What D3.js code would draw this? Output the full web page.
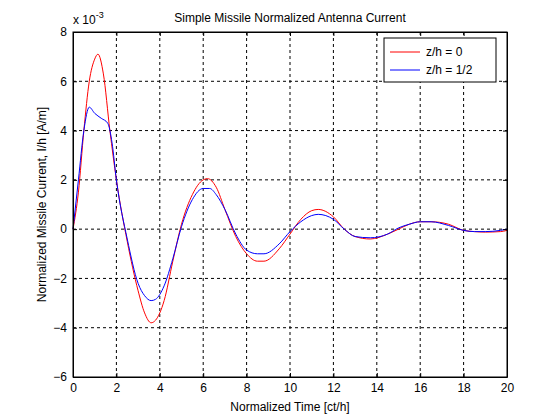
<!DOCTYPE html>
<html><head><meta charset="utf-8">
<script src="https://cdn.jsdelivr.net/npm/d3@7"></script>
<style>body{margin:0;background:#fff}text{font-family:"Liberation Sans",Arial,sans-serif}</style>
</head><body><div class="canvas"></div>
<script>
// values in units of 1e-3
const tRed = [0,0.25,0.5,0.75,1.0,1.15,1.4,1.7,2.0,2.5,3.0,3.3,3.6,3.8,4.2,4.6,5.0,5.5,6.0,6.2,6.6,7.0,7.5,8.0,8.5,8.8,9.5,10,10.5,11,11.3,12,12.5,13,13.7,14.5,15,15.5,16,16.5,17.3,18,18.5,19,19.7,20];
const red = [0,1.5,4,6,6.9,7.1,6.3,4.0,2.0,-0.5,-2.5,-3.4,-3.8,-3.7,-2.9,-1.3,0.2,1.4,2.0,2.05,1.7,0.8,-0.3,-1.0,-1.3,-1.3,-0.8,-0.2,0.4,0.75,0.8,0.5,0.0,-0.3,-0.4,-0.2,0.0,0.2,0.3,0.3,0.2,-0.05,-0.1,-0.12,-0.1,-0.05];
const tBlue = [0,0.25,0.5,0.75,1.0,1.3,1.6,1.8,2.0,2.5,3.0,3.3,3.6,3.8,4.2,4.6,5.0,5.5,6.0,6.3,6.6,7.0,7.5,8.0,8.5,8.8,9.5,10,10.5,11,11.3,12,12.5,13,13.7,14.5,15,15.5,16,16.5,17.3,18,18.5,19,19.7,20];
const blue = [0,2.0,4.0,4.95,4.7,4.5,4.3,3.5,2.0,-0.4,-2.2,-2.7,-2.9,-2.85,-2.3,-1.2,0.1,1.2,1.65,1.65,1.4,0.8,-0.2,-0.85,-1.0,-1.0,-0.6,-0.1,0.3,0.55,0.6,0.4,0.0,-0.3,-0.35,-0.2,0.05,0.2,0.3,0.3,0.15,-0.05,-0.1,-0.1,-0.05,0];
const xTicks = d3.range(0, 21, 2);
const yTicks = d3.range(-6, 9, 2);
const seriesNames = ['z/h = 0', 'z/h = 1/2'];

const svg = d3.select('.canvas').append('svg').attr('width', 560).attr('height', 420);
const margin = { top: 32, right: 53, bottom: 43, left: 73 };
const w = 560 - margin.left - margin.right, h = 420 - margin.top - margin.bottom;
const g = svg.append('g').attr('transform', `translate(${margin.left},${margin.top})`);

const x = d3.scaleLinear().domain([0, 20]).range([0, w]);
const y = d3.scaleLinear().domain([-6, 8]).range([h, 0]);

// grid
g.selectAll('.gx').data(xTicks.slice(1, -1)).enter().append('line')
  .attr('x1', d => x(d)).attr('x2', d => x(d)).attr('y1', 0).attr('y2', h)
  .attr('stroke', '#000').attr('stroke-dasharray', '3,3');
g.selectAll('.gy').data(yTicks.slice(1, -1)).enter().append('line')
  .attr('y1', d => y(d)).attr('y2', d => y(d)).attr('x1', 0).attr('x2', w)
  .attr('stroke', '#000').attr('stroke-dasharray', '3,3');

const line = d3.line().x(d => x(d[0])).y(d => y(d[1])).curve(d3.curveMonotoneX);
g.append('path').datum(d3.zip(tRed, red)).attr('d', line).attr('fill', 'none').attr('stroke', '#f00');
g.append('path').datum(d3.zip(tBlue, blue)).attr('d', line).attr('fill', 'none').attr('stroke', '#00f');

// axes
const xa = g.append('g').attr('transform', `translate(0,${h})`).call(d3.axisBottom(x).tickValues(xTicks).tickSizeInner(-4).tickSizeOuter(0).tickPadding(6));
const xt = g.append('g').call(d3.axisTop(x).tickValues(xTicks).tickSizeInner(-4).tickSizeOuter(0).tickFormat(''));
const ya = g.append('g').call(d3.axisLeft(y).tickValues(yTicks).tickSizeInner(-4).tickSizeOuter(0).tickPadding(6));
const yr = g.append('g').attr('transform', `translate(${w},0)`).call(d3.axisRight(y).tickValues(yTicks).tickSizeInner(-4).tickSizeOuter(0).tickFormat(''));
[xa, xt, ya, yr].forEach(a => { a.selectAll('text').attr('font-size', 12).attr('fill', '#000'); a.select('.domain').attr('stroke', '#000'); });
g.append('rect').attr('width', w).attr('height', h).attr('fill', 'none').attr('stroke', '#000');

// labels
svg.append('text').attr('x', margin.left + w / 2).attr('y', 22).attr('text-anchor', 'middle').attr('font-size', 12).text('Simple Missile Normalized Antenna Current');
svg.append('text').attr('x', margin.left + w / 2).attr('y', 411).attr('text-anchor', 'middle').attr('font-size', 12).text('Normalized Time [ct/h]');
svg.append('text').attr('transform', `translate(46,${margin.top + h / 2}) rotate(-90)`).attr('text-anchor', 'middle').attr('font-size', 12).text('Normalized Missile Current, I/h [A/m]');
const ex = svg.append('text').attr('x', 73).attr('y', 24).attr('font-size', 12).text('x 10');
ex.append('tspan').attr('dy', -6).attr('font-size', 9).text('-3');

// legend
const lg = svg.append('g').attr('transform', 'translate(384,38)');
lg.append('rect').attr('width', 112).attr('height', 44).attr('fill', '#fff').attr('stroke', '#000');
['#f00', '#00f'].forEach((c, i) => {
  lg.append('line').attr('x1', 6).attr('x2', 36).attr('y1', 14 + i * 18).attr('y2', 14 + i * 18).attr('stroke', c);
  lg.append('text').attr('x', 42).attr('y', 18 + i * 18).attr('font-size', 12).text(seriesNames[i]);
});
</script></body></html>
